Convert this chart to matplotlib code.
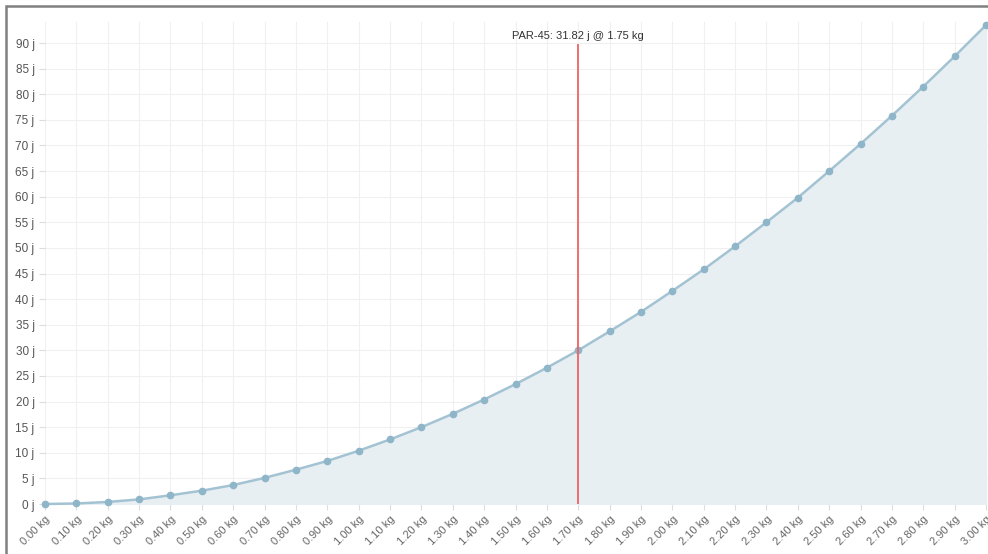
import numpy as np
import matplotlib.pyplot as plt
from matplotlib.patches import Rectangle

# mass (kg) vs energy (j)
mass = [0.00, 0.10, 0.20, 0.30, 0.40, 0.50, 0.60, 0.70, 0.80, 0.90,
        1.00, 1.10, 1.20, 1.30, 1.40, 1.50, 1.60, 1.70, 1.80, 1.90,
        2.00, 2.10, 2.20, 2.30, 2.40, 2.50, 2.60, 2.70, 2.80, 2.90, 3.00]
energy = [0.0, 0.1, 0.4, 0.9, 1.7, 2.6, 3.7, 5.1, 6.7, 8.4,
          10.4, 12.6, 15.0, 17.6, 20.4, 23.4, 26.6, 30.0, 33.7, 37.5,
          41.6, 45.8, 50.3, 55.0, 59.8, 65.0, 70.3, 75.8, 81.5, 87.4, 93.5]
yticks = list(range(0, 95, 5))
marker_x = 1.70
marker_label = "PAR-45: 31.82 j @ 1.75 kg"

plt.rcParams['font.family'] = ['Liberation Sans', 'DejaVu Sans']

fig = plt.figure(figsize=(9.88, 5.54), dpi=100)
W, H = 988, 554
ax = fig.add_axes([45 / W, (H - 504) / H, (988 - 45) / W, (504 - 22) / H])

ax.fill_between(mass, energy, 0, color='#e8eff3', zorder=1)
ax.plot(mass, energy, color='#a3c3d3', lw=1.8, marker='o', ms=4.5,
        markerfacecolor='#8fb5c9', markeredgecolor='#8fb5c9', zorder=3,
        clip_on=False)

ax.set_xlim(0, 3.0 * 943 / 941)
ax.set_ylim(0, 482 / 5.122)

ax.set_xticks(mass)
ax.set_xticklabels([f"{m:.2f} kg" for m in mass], rotation=45,
                   ha='right', rotation_mode='anchor', fontsize=8, color='#666')
ax.set_yticks(yticks)
ax.set_yticklabels([f"{v} j" for v in yticks], fontsize=8.5, color='#555')
ax.tick_params(axis='both', length=4, color='#ddd', width=0.8)
ax.tick_params(axis='x', pad=3)

ax.grid(True, color='#f0f0f0', lw=0.8, zorder=0)
ax.set_axisbelow(True)
for s in ax.spines.values():
    s.set_visible(False)

ax.plot([marker_x, marker_x], [0, (504 - 45) / 5.122], color='#f06262', lw=1.3, zorder=4)
ax.text(marker_x, (504 - 36) / 5.122, marker_label, ha='center', va='center',
        fontsize=8, color='#333', zorder=5)

# outer frame
fig.patches.append(Rectangle((6 / W, -0.1), 1.2, (H - 6) / H + 0.1,
                             transform=fig.transFigure, fill=False,
                             edgecolor='#808080', lw=1.8))

fig.savefig('out.png', dpi=100)
